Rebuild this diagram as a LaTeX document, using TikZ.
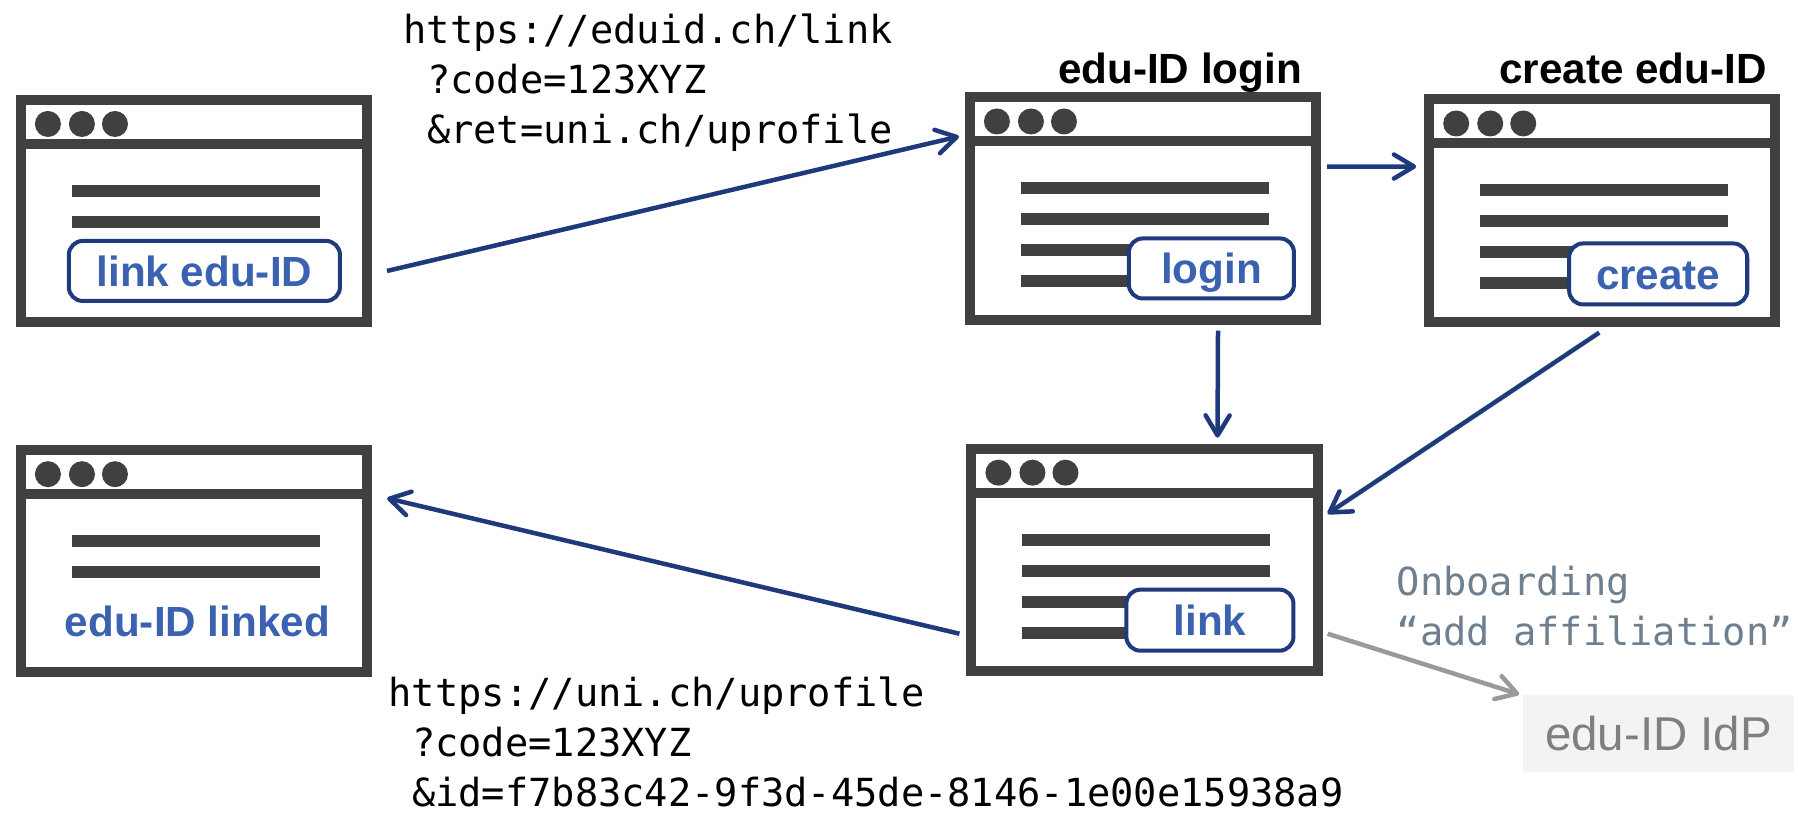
\documentclass[tikz,border=0pt]{standalone}
\usepackage{fontspec}
\setmainfont{Liberation Sans}
\setmonofont{DejaVu Sans Mono}
\usepackage{xcolor}
\usepackage{tikz}
\usetikzlibrary{arrows.meta,positioning}

\definecolor{wingray}{HTML}{404040}
\definecolor{btnline}{HTML}{1F3A7D}
\definecolor{btntext}{HTML}{3A62B0}
\definecolor{arrowblue}{HTML}{1F3A7B}
\definecolor{notegray}{HTML}{6E7F8F}
\definecolor{idpfill}{HTML}{F1F3F4}
\definecolor{idptext}{HTML}{7F7F7F}
\definecolor{flowgray}{HTML}{9A9A9A}

\tikzset{
  win/.style={draw=wingray, line width=1mm, minimum width=3.46cm, minimum height=2.22cm,
    inner sep=0pt, outer sep=0.5mm,
    path picture={
      \draw[wingray, line width=1mm] ([yshift=-4.4mm]path picture bounding box.north west)
        -- ([yshift=-4.4mm]path picture bounding box.north east);
      \foreach \dx in {2.7,6.1,9.4}
        \fill[wingray] ([xshift=\dx mm, yshift=-2.4mm]path picture bounding box.north west) circle (1.3mm);
    }},
  bar/.style={draw=wingray, line width=1.2mm},
  btn/.style={draw=btnline, line width=0.4mm, fill=white, rounded corners=1.4mm, inner sep=0pt,
    minimum height=0.6cm, text height=3.1mm, text depth=0pt, text=btntext,
    font=\bfseries\fontsize{12}{14}\selectfont},
  btnlabel/.style={inner sep=0pt, text height=3.1mm, text depth=0pt, text=btntext,
    font=\bfseries\fontsize{12}{14}\selectfont},
  title/.style={anchor=base, inner sep=0pt, font=\bfseries\fontsize{12}{14}\selectfont},
  url/.style={anchor=base west, align=left, inner sep=0pt, font=\ttfamily\fontsize{11}{14.2}\selectfont},
  flow/.style={draw=arrowblue, line width=0.45mm, -{Straight Barb[length=2mm,width=2.4mm,round]}},
}

\begin{document}
\begin{tikzpicture}[x=0.01cm, y=-0.01cm]
\useasboundingbox (0,0) rectangle (1798,826);

% browser windows
\node[win] (w1) at (194,211) {};
\node[win] (w2) at (1143,208.5) {};
\node[win, right=1.03cm of w2, yshift=-0.02cm] (w3) {};
\node[win, below=1.19cm of w2, xshift=0.015cm] (w4) {};
\node[win, below=1.18cm of w1] (w5) {};

\foreach \w/\n in {w1/2,w5/2,w2/4,w3/4,w4/4}
  \foreach \k in {1,...,\n}
    \draw[bar] ([shift={(56,65+31*\k)}]\w.north west) -- ++(248,0);

% buttons
\node[btn, minimum width=2.71cm] (b1) at ([shift={(188.5,176)}]w1.north west) {link edu-ID};
\node[btn, minimum width=1.65cm] (b2) at ([shift={(246.5,176)}]w2.north west) {login};
\node[btn, minimum width=1.78cm, minimum height=0.61cm] (b3) at ([shift={(234,179.5)}]w3.north west) {create};
\node[btn, minimum width=1.67cm, minimum height=0.61cm] (b4) at ([shift={(243.5,176.5)}]w4.north west) {link};
\node[btnlabel] (b5) at ([shift={(181.5,176)}]w5.north west) {edu-ID linked};

% titles
\node[title] (t2) at (1180,83) {edu-ID login};
\node[title] (t3) at (1633,83) {create edu-ID};

% urls (base = last line)
\node[url] (u1) at (403,143) {https://eduid.ch/link\\\ ?code=123XYZ\\\ \&ret=uni.ch/uprofile};
\node[url] (u2) at (388,806) {https://uni.ch/uprofile\\\ ?code=123XYZ\\\ \&id=f7b83c42-9f3d-45de-8146-1e00e15938a9};
\node[url, text=notegray] (on) at (1396,645) {Onboarding\\“add affiliation”};

\node[fill=idpfill, minimum width=2.71cm, minimum height=0.77cm, inner sep=0pt, text=idptext,
  text height=3.4mm, text depth=0pt, font=\fontsize{13.5}{16}\selectfont] (idp) at (1658.5,733.5) {edu-ID IdP};

% flow
\draw[flow] ([xshift=0.45cm]b1.east) -- ([shift={(-6,44)}]w2.north west);
\draw[flow] ([shift={(6,-42)}]w2.east) -- ([shift={(-8,-44)}]w3.west);
\draw[flow] ([shift={(75,6)}]w2.south) -- ([shift={(73,-6)}]w4.north);
\draw[flow] ([shift={(-3,6)}]w3.south) -- ([shift={(5,-46)}]w4.east);
\draw[flow] ([shift={(-7,74)}]w4.west) -- ([shift={(15,-63)}]w5.east);
\draw[flow, draw=flowgray] ([shift={(5,74)}]w4.east) -- ([xshift=-0.03cm]idp.north west);
\end{tikzpicture}
\end{document}
